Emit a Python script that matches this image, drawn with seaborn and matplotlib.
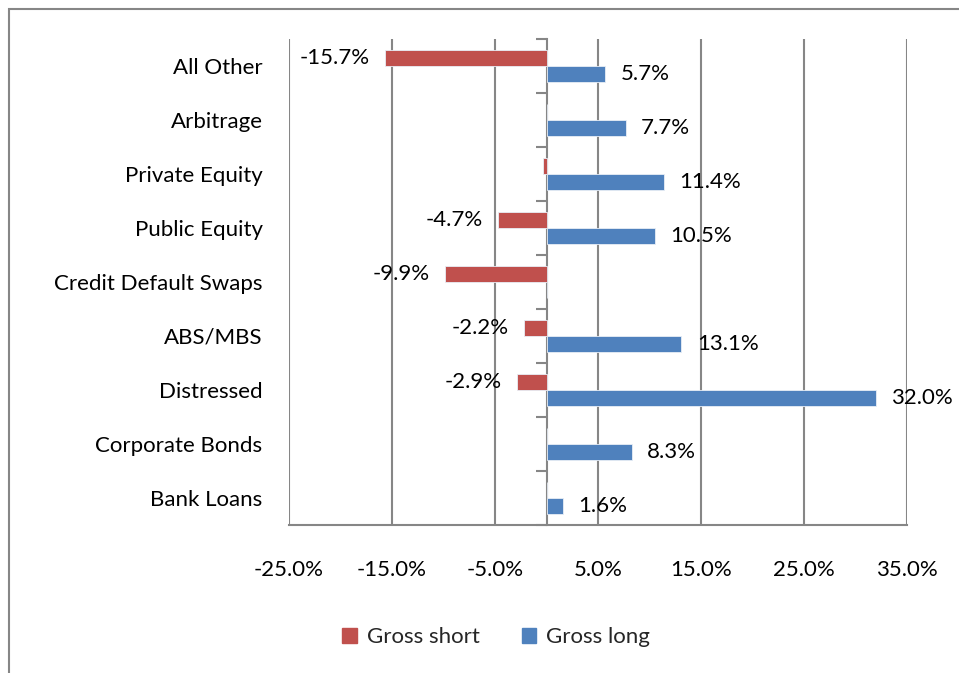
import matplotlib
matplotlib.use("Agg")
import matplotlib.pyplot as plt
from matplotlib.patches import Rectangle
from matplotlib.ticker import FixedLocator, NullFormatter
import seaborn as sns
import pandas as pd
import numpy as np

categories = ["All Other", "Arbitrage", "Private Equity", "Public Equity",
              "Credit Default Swaps", "ABS/MBS", "Distressed",
              "Corporate Bonds", "Bank Loans"]
gross_short = [-15.7, 0.0, -0.3, -4.7, -9.9, -2.2, -2.9, 0.0, 0.0]
gross_long = [5.7, 7.7, 11.4, 10.5, 0.0, 13.1, 32.0, 8.3, 1.6]
series_names = ["Gross short", "Gross long"]
x_ticks = [-25, -15, -5, 5, 15, 25, 35]

RED = "#C0504D"
BLUE = "#4F81BD"
GRAY = "#868686"
FS = 16

sns.set_style("white")
plt.rcParams["font.family"] = ["Lato", "DejaVu Sans"]

df = pd.DataFrame({
    "category": categories * 2,
    "value": gross_short + gross_long,
    "series": [series_names[0]] * len(categories) + [series_names[1]] * len(categories),
})

fig = plt.figure(figsize=(9.59, 6.73), dpi=100)
ax = fig.add_axes([289 / 959, 1 - 525 / 673, (907 - 289) / 959, (525 - 39) / 673])

sns.barplot(data=df, y="category", x="value", hue="series", order=categories,
            hue_order=series_names, palette=[RED, BLUE], orient="h",
            width=0.6, errorbar=None, ax=ax, legend=False, saturation=1,
            edgecolor="#E8EEF6", linewidth=0.6, zorder=3)

ax.set_xlim(-25, 35)
ax.set_ylim(len(categories) - 0.5, -0.5)
ax.set_xticks(x_ticks)
ax.set_xticklabels([f"{t:.1f}%" for t in x_ticks])
ax.set_xlabel("")
ax.set_ylabel("")
ax.grid(axis="x", color=GRAY, linewidth=1.5, zorder=0)
ax.set_axisbelow(True)

for side in ["top", "right", "left"]:
    ax.spines[side].set_visible(False)
ax.spines["bottom"].set_color(GRAY)
ax.spines["bottom"].set_linewidth(1.5)
ax.tick_params(axis="x", direction="out", length=8, width=1.5, color=GRAY,
               labelsize=FS, pad=17, labelcolor="black")
ax.tick_params(axis="y", length=0, labelsize=FS, pad=19, labelcolor="black")

# zero-line category axis with boundary ticks
loc0 = (0 - ax.get_xlim()[0]) / (ax.get_xlim()[1] - ax.get_xlim()[0])
sec = ax.secondary_yaxis(loc0)
sec.spines["left"].set_color(GRAY)
sec.spines["left"].set_linewidth(1.5)
sec.yaxis.set_major_locator(FixedLocator(np.arange(-0.5, len(categories), 1.0)))
sec.yaxis.set_major_formatter(NullFormatter())
sec.tick_params(axis="y", direction="out", length=8, width=1.5, color=GRAY)

# data labels
for cont, vals in zip(ax.containers, [gross_short, gross_long]):
    labels = [f"{v:.1f}%" if abs(v) >= 0.5 else "" for v in vals]
    ax.bar_label(cont, labels=labels, padding=11, fontsize=FS, color="black")

# legend
handles = [Rectangle((0, 0), 1, 1, color=c) for c in (RED, BLUE)]
fig.legend(handles, series_names, loc="center", bbox_to_anchor=(496 / 959, 1 - 637 / 673),
           ncol=2, frameon=False, fontsize=FS, handlelength=0.65, handleheight=0.65,
           handletextpad=0.45, columnspacing=1.9)

# outer frame (partially cropped)
fig.patches.append(Rectangle((9 / 959, -0.2), 1.5, 1.2 - 9 / 673,
                             transform=fig.transFigure, fill=False,
                             edgecolor=GRAY, linewidth=1.5))

fig.savefig("out.png", dpi=100)
